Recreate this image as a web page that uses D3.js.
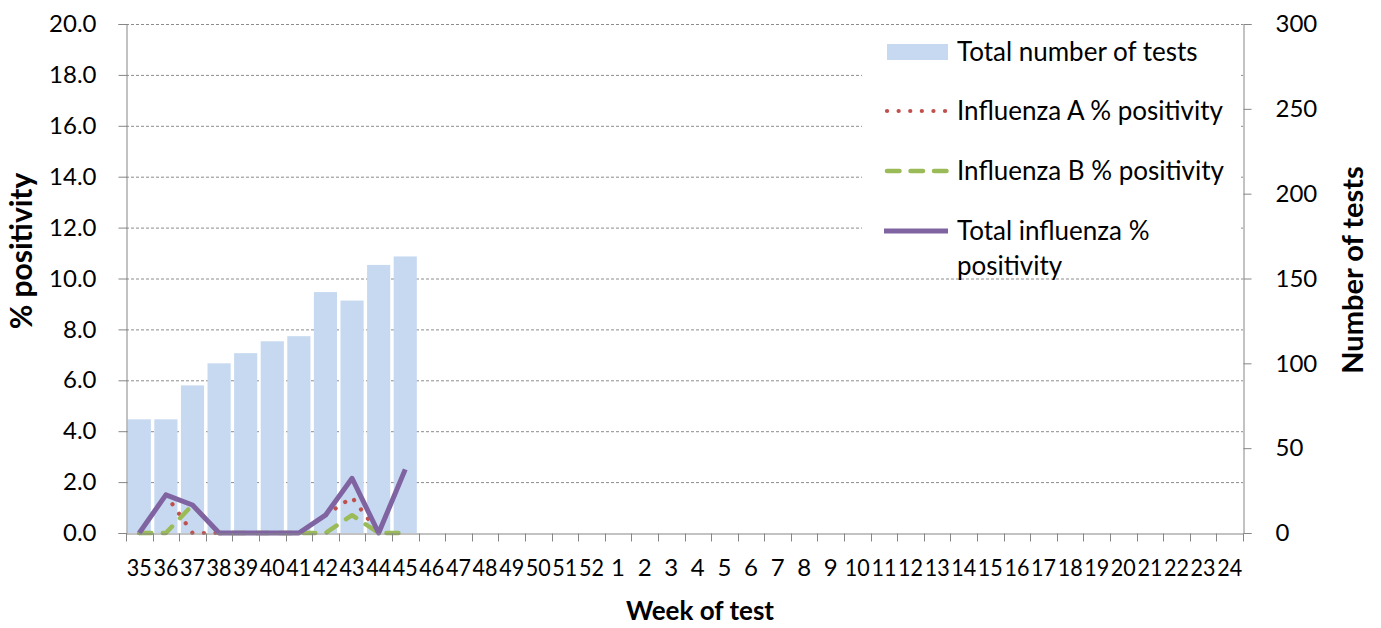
<!DOCTYPE html>
<html>
<head>
<meta charset="utf-8">
<script src="https://cdn.jsdelivr.net/npm/d3@7"></script>
<style>
  body { margin: 0; background: #fff; }
  svg text { font-family: Lato, "Open Sans", sans-serif; fill: #000; }
</style>
</head>
<body>
<svg width="1381" height="628"></svg>
<script>
const svg = d3.select("svg"),
      width = +svg.attr("width"),
      height = +svg.attr("height");

// weeks of the season (35..52 then 1..24)
const weeks = ["35","36","37","38","39","40","41","42","43","44","45","46","47","48","49","50","51","52",
               "1","2","3","4","5","6","7","8","9","10","11","12","13","14","15","16","17","18","19","20","21","22","23","24"];

// data (only weeks 35-45 reported)
const totalTests = [67, 67, 87, 100, 106, 113, 116, 142, 137, 158, 163];
const fluA       = [0, 1.5, 0, 0, 0, 0, 0, 0.7, 1.4, 0, 2.5];
const fluB       = [0, 0, 1.1, 0, 0, 0, 0, 0, 0.7, 0, 0];
const fluTotal   = [0, 1.5, 1.1, 0, 0, 0, 0, 0.7, 2.15, 0, 2.5];

const leftTicks = [0, 2, 4, 6, 8, 10, 12, 14, 16, 18, 20];
const rightTicks = [0, 50, 100, 150, 200, 250, 300];

const plot = { left: 126, right: 1243, top: 24, bottom: 533 };

const x = d3.scaleBand().domain(weeks)
    .range([plot.left, plot.right])
    .paddingInner(0.13).paddingOuter(0.065);
const yL = d3.scaleLinear().domain([0, 20]).range([plot.bottom, plot.top]);
const yR = d3.scaleLinear().domain([0, 300]).range([plot.bottom, plot.top]);

const axisColor = "#868686";

// gridlines (dashed)
svg.append("g")
    .selectAll("line")
    .data(leftTicks.filter(d => d > 0))
    .enter().append("line")
    .attr("x1", plot.left).attr("x2", plot.right)
    .attr("y1", d => yL(d) + 0.5).attr("y2", d => yL(d) + 0.5)
    .attr("stroke", "#8c8c8c")
    .attr("stroke-width", 1)
    .attr("stroke-dasharray", "3,2");

// bars: total number of tests
svg.append("g")
    .selectAll("rect")
    .data(totalTests)
    .enter().append("rect")
    .attr("x", (d, i) => x(weeks[i]))
    .attr("y", d => yR(d))
    .attr("width", x.bandwidth())
    .attr("height", d => yR(0) - yR(d))
    .attr("fill", "#c6d9f1");

// lines
const cx = i => x(weeks[i]) + x.bandwidth() / 2;
const line = d3.line().x((d, i) => cx(i)).y(d => yL(d));

const series = [
    { values: fluA, color: "#c0504d", width: 4.2, dash: "0.1,11.5", cap: "round" },
    { values: fluB, color: "#9bbb59", width: 4.5, dash: "12,11.5", cap: "round" },
    { values: fluTotal, color: "#8064a2", width: 5, dash: null, cap: "butt" }
];

svg.append("g")
    .selectAll("path")
    .data(series)
    .enter().append("path")
    .attr("d", d => line(d.values))
    .attr("fill", "none")
    .attr("stroke", d => d.color)
    .attr("stroke-width", d => d.width)
    .attr("stroke-dasharray", d => d.dash)
    .attr("stroke-linecap", d => d.cap)
    .attr("stroke-linejoin", "round");

// left axis
const gL = svg.append("g").attr("transform", `translate(${plot.left + 0.5},0)`)
    .call(d3.axisLeft(yL).tickValues(leftTicks).tickSize(8).tickPadding(22)
        .tickFormat(d3.format(".1f")));
gL.selectAll("path, line").attr("stroke", axisColor);
gL.selectAll("text").attr("font-size", 24).attr("font-family", "Lato");

// right axis
const gR = svg.append("g").attr("transform", `translate(${plot.right + 0.5},0)`)
    .call(d3.axisRight(yR).tickValues(rightTicks).tickSize(8).tickPadding(24));
gR.selectAll("path, line").attr("stroke", axisColor);
gR.selectAll("text").attr("font-size", 24).attr("font-family", "Lato");

// bottom axis (labels centred, ticks on category boundaries)
const gB = svg.append("g").attr("transform", `translate(0,${plot.bottom + 0.5})`)
    .call(d3.axisBottom(x).tickSize(0).tickPadding(25));
gB.select("path").attr("stroke", axisColor);
gB.selectAll("text").attr("font-size", 24).attr("font-family", "Lato")
    .attr("textLength", d => d.length > 1 ? 25 : null)
    .attr("lengthAdjust", "spacingAndGlyphs");

const offset = x.step() * x.paddingOuter();
const bounds = weeks.map(w => x(w) - offset).concat([plot.right]);
gB.append("g").selectAll("line")
    .data(bounds)
    .enter().append("line")
    .attr("x1", d => Math.round(d) + 0.5).attr("x2", d => Math.round(d) + 0.5)
    .attr("y1", 0).attr("y2", 8)
    .attr("stroke", axisColor);

// axis titles
svg.append("text")
    .attr("transform", "translate(32,251) rotate(-90)")
    .attr("text-anchor", "middle")
    .attr("font-size", 30).attr("font-weight", "bold")
    .text("% positivity");

svg.append("text")
    .attr("transform", "translate(1363,270) rotate(-90)")
    .attr("text-anchor", "middle")
    .attr("font-size", 29).attr("font-weight", "bold")
    .text("Number of tests");

svg.append("text")
    .attr("x", 700).attr("y", 620)
    .attr("text-anchor", "middle")
    .attr("font-size", 26).attr("font-weight", "bold")
    .text("Week of test");

// legend (white box over the gridlines)
const legend = svg.append("g");
legend.append("rect")
    .attr("x", 862).attr("y", 26).attr("width", 378).attr("height", 248)
    .attr("fill", "#fff");

const legendItems = [
    { label: ["Total number of tests"], y: 52, type: "bar" },
    { label: ["Influenza A % positivity"], y: 111, type: "line", s: series[0] },
    { label: ["Influenza B % positivity"], y: 171, type: "line", s: series[1] },
    { label: ["Total influenza %", "positivity"], y: 231, type: "line", s: series[2] }
];

const li = legend.selectAll("g.item")
    .data(legendItems)
    .enter().append("g").attr("class", "item");

li.filter(d => d.type === "bar").append("rect")
    .attr("x", 887).attr("y", d => d.y - 8)
    .attr("width", 61).attr("height", 16)
    .attr("fill", "#c6d9f1");

li.filter(d => d.type === "line").append("line")
    .attr("x1", d => d.s.cap === "round" ? 887 : 884).attr("x2", 948)
    .attr("y1", d => d.y).attr("y2", d => d.y)
    .attr("stroke", d => d.s.color)
    .attr("stroke-width", d => d.s.width)
    .attr("stroke-dasharray", d => d.s.dash === "12,11.5" ? "12.5,11" : d.s.dash)
    .attr("stroke-linecap", d => d.s.cap);

li.append("text")
    .attr("x", 957).attr("y", d => d.y + 9)
    .attr("font-size", 26)
    .selectAll("tspan")
    .data(d => d.label)
    .enter().append("tspan")
    .attr("x", 957)
    .attr("dy", (d, i) => i === 0 ? 0 : 35)
    .text(d => d);
</script>
</body>
</html>
